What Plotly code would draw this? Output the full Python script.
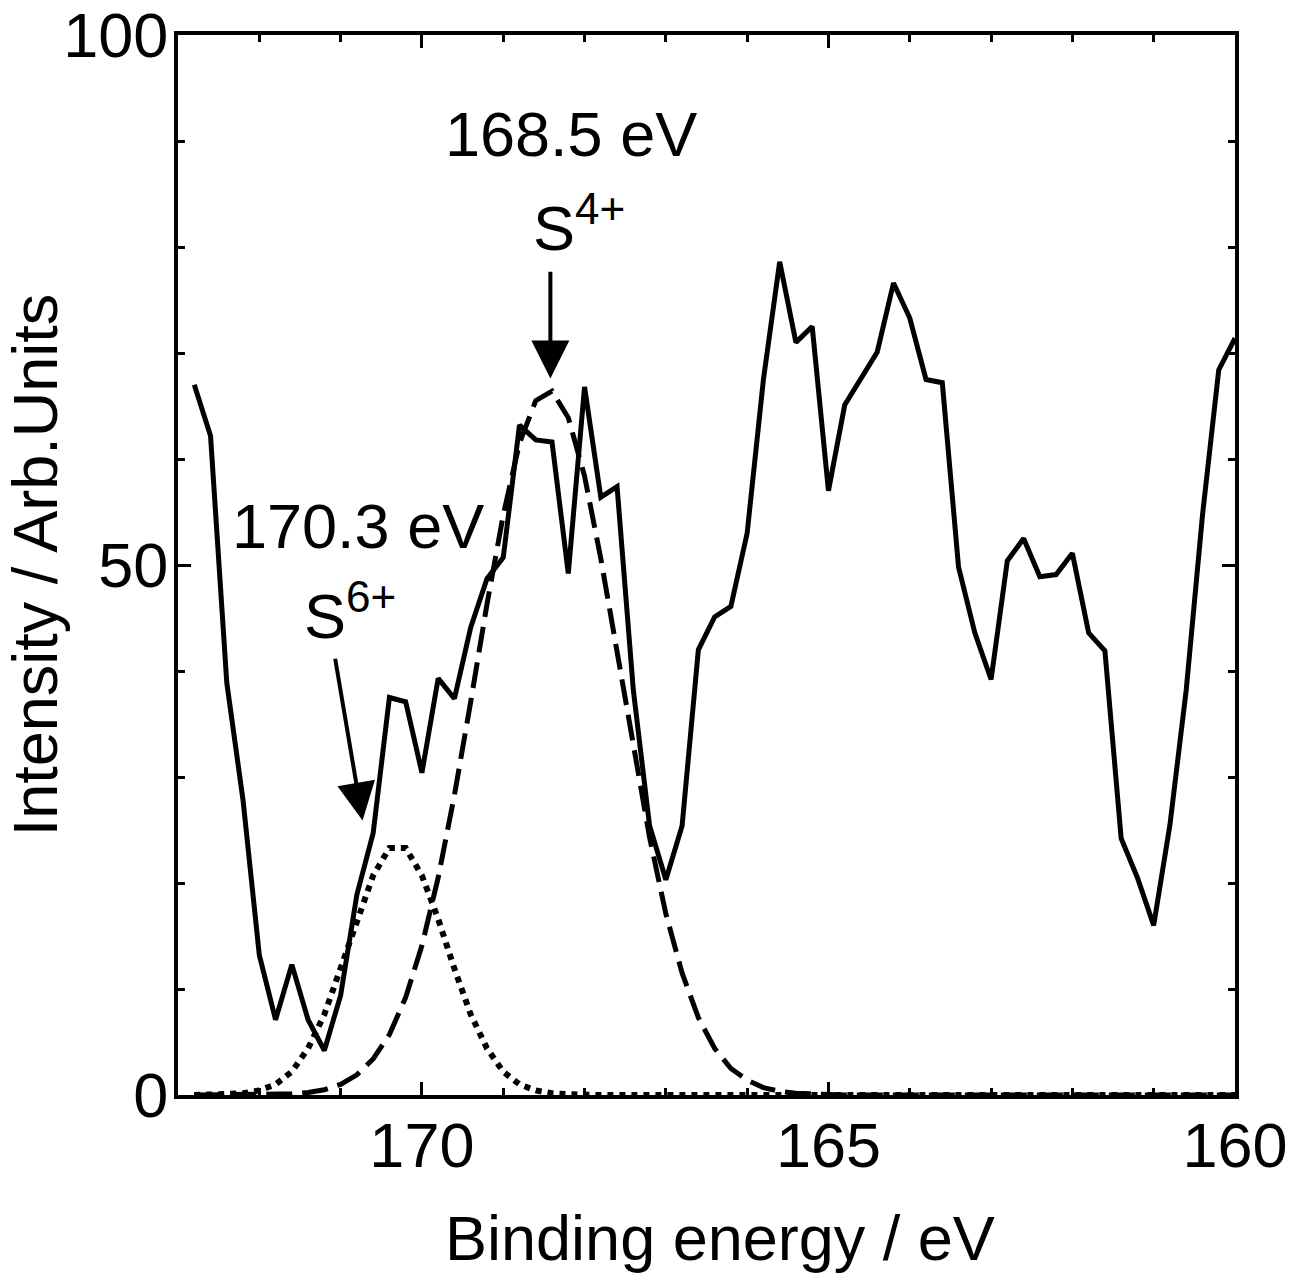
import plotly.graph_objects as go

# Binding energy (eV), 0.2 eV steps
binding_energy = [172.8, 172.6, 172.4, 172.2, 172.0, 171.8, 171.6, 171.4, 171.2, 171.0,
                  170.8, 170.6, 170.4, 170.2, 170.0, 169.8, 169.6, 169.4, 169.2, 169.0,
                  168.8, 168.6, 168.4, 168.2, 168.0, 167.8, 167.6, 167.4, 167.2, 167.0,
                  166.8, 166.6, 166.4, 166.2, 166.0, 165.8, 165.6, 165.4, 165.2, 165.0,
                  164.8, 164.6, 164.4, 164.2, 164.0, 163.8, 163.6, 163.4, 163.2, 163.0,
                  162.8, 162.6, 162.4, 162.2, 162.0, 161.8, 161.6, 161.4, 161.2, 161.0,
                  160.8, 160.6, 160.4, 160.2, 160.0]

measured = [67.0, 62.2, 38.9, 27.8, 13.2, 7.1, 12.3, 7.1, 4.2, 9.4,
            18.9, 24.7, 37.5, 37.1, 30.4, 39.3, 37.4, 44.1, 48.7, 50.7,
            63.2, 61.8, 61.6, 49.2, 66.8, 56.4, 57.4, 38.2, 25.4, 20.3,
            25.4, 42.0, 45.1, 46.1, 53.0, 67.5, 78.6, 71.0, 72.5, 57.0,
            65.1, 67.5, 70.1, 76.6, 73.3, 67.5, 67.2, 49.8, 43.6, 39.2,
            50.4, 52.5, 48.9, 49.1, 51.1, 43.6, 41.9, 24.2, 20.5, 16.0,
            25.5, 38.2, 54.7, 68.4, 71.4]

fit_s4 = [0.0, 0.0, 0.0, 0.0, 0.02, 0.05, 0.11, 0.24, 0.5, 1.0,
          1.9, 3.4, 5.7, 9.2, 14.1, 20.5, 28.3, 37.1, 46.3, 54.7,
          61.5, 65.5, 66.4, 63.9, 58.4, 50.6, 41.7, 32.6, 24.3, 17.1,
          11.5, 7.3, 4.4, 2.5, 1.4, 0.7, 0.35, 0.16, 0.07, 0.03,
          0.0, 0.0, 0.0, 0.0, 0.0, 0.0, 0.0, 0.0, 0.0, 0.0,
          0.0, 0.0, 0.0, 0.0, 0.0, 0.0, 0.0, 0.0, 0.0, 0.0,
          0.0, 0.0, 0.0, 0.0, 0.0]

fit_s6 = [0.0, 0.02, 0.05, 0.16, 0.43, 1.0, 2.2, 4.4, 7.6, 11.9,
          16.6, 20.7, 23.3, 23.3, 20.7, 16.6, 11.9, 7.6, 4.4, 2.2,
          1.0, 0.43, 0.16, 0.05, 0.02, 0.0, 0.0, 0.0, 0.0, 0.0,
          0.0, 0.0, 0.0, 0.0, 0.0, 0.0, 0.0, 0.0, 0.0, 0.0,
          0.0, 0.0, 0.0, 0.0, 0.0, 0.0, 0.0, 0.0, 0.0, 0.0,
          0.0, 0.0, 0.0, 0.0, 0.0, 0.0, 0.0, 0.0, 0.0, 0.0,
          0.0, 0.0, 0.0, 0.0, 0.0]

x_ticks = [170, 165, 160]
y_ticks = [0, 50, 100]
x_title = "Binding energy / eV"
y_title = "Intensity / Arb.Units"

FONT = "Liberation Sans, Arial, Helvetica, sans-serif"
FS = 63

fig = go.Figure()
fig.add_trace(go.Scatter(x=binding_energy, y=fit_s6, mode="lines", name="S6+ fit",
                         line=dict(color="black", width=6, dash="6px,6px")))
fig.add_trace(go.Scatter(x=binding_energy, y=fit_s4, mode="lines", name="S4+ fit",
                         line=dict(color="black", width=5, dash="26px,10px")))
fig.add_trace(go.Scatter(x=binding_energy, y=measured, mode="lines", name="measured",
                         line=dict(color="black", width=5)))

axis_common = dict(
    ticks="inside", ticklen=13, tickwidth=3, tickcolor="black",
    showline=True, linewidth=4, linecolor="black", mirror="allticks",
    showgrid=False, zeroline=False,
    tickfont=dict(family=FONT, size=FS, color="black"),
)

fig.update_xaxes(
    range=[173, 160], tickvals=x_ticks, ticklabelstandoff=-8,
    minor=dict(dtick=1, ticks="inside", ticklen=7, tickwidth=3, tickcolor="black", showgrid=False),
    **axis_common,
)
fig.update_yaxes(
    range=[0, 100], tickvals=y_ticks, ticklabelstandoff=-7,
    minor=dict(dtick=10, ticks="inside", ticklen=7, tickwidth=3, tickcolor="black", showgrid=False),
    title=dict(text=y_title, font=dict(family=FONT, size=FS, color="black"), standoff=14),
    **axis_common,
)

# x-axis title (placed as paper annotation to match the reference offset)
fig.add_annotation(xref="paper", yref="paper", x=0.5128, y=-0.135, text=x_title,
                   showarrow=False, xanchor="center", yanchor="middle",
                   font=dict(family=FONT, size=FS, color="black"))

annots = [
    dict(text="168.5 eV", x=168.17, y=87.2, yanchor="bottom"),
    dict(text="S<sup>4+</sup>", x=168.07, y=78.3, yanchor="bottom"),
    dict(text="170.3 eV", x=170.79, y=50.2, yanchor="bottom"),
    dict(text="S<sup>6+</sup>", x=170.88, y=41.7, yanchor="bottom"),
]
for a in annots:
    fig.add_annotation(xref="x", yref="y", showarrow=False, xanchor="center",
                       font=dict(family=FONT, size=FS, color="black"), **a)

arrows = [
    dict(x=168.42, y=67.6, ax=168.42, ay=77.8),
    dict(x=170.73, y=25.9, ax=171.07, ay=41.3),
]
for a in arrows:
    fig.add_annotation(xref="x", yref="y", axref="x", ayref="y", text="",
                       showarrow=True, arrowhead=2, arrowwidth=4, arrowsize=1.9,
                       arrowcolor="black", standoff=0, **a)

fig.update_layout(
    width=1293, height=1274,
    margin=dict(l=178, r=58, t=35, b=179, autoexpand=False),
    plot_bgcolor="white", paper_bgcolor="white",
    showlegend=False,
    font=dict(family=FONT, size=FS, color="black"),
)

fig.write_html("out.html", config={"displayModeBar": False},
               post_script="document.body.style.margin='0px';")
